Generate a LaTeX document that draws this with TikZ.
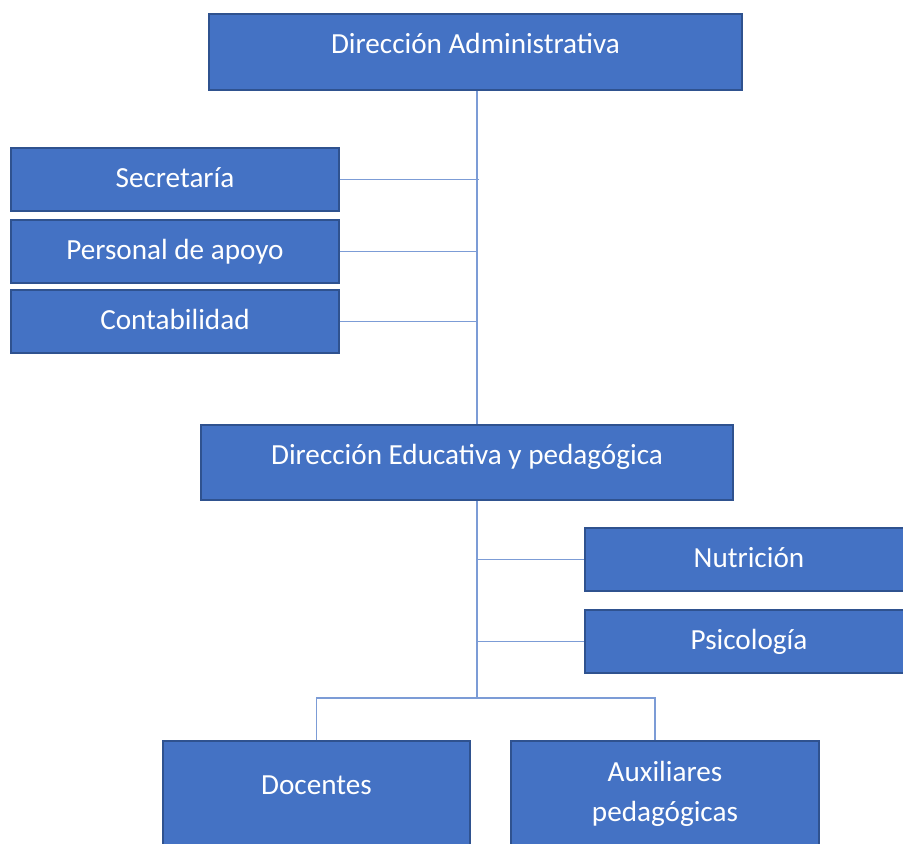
\documentclass[tikz,border=0pt]{standalone}
\usepackage{fontspec}
\setmainfont{Carlito}
\definecolor{boxfill}{RGB}{68,114,196}
\definecolor{boxline}{RGB}{47,82,143}
\definecolor{connline}{RGB}{124,156,214}
\begin{document}
\begin{tikzpicture}[
  font=\fontsize{16.6}{22.6}\selectfont,
  unit/.style={draw=boxline, line width=1.1pt, fill=boxfill, text=white,
               rectangle, anchor=north west, inner ysep=0pt, align=center},
  big/.style={unit, minimum width=10.66cm, text height=0.8cm, text depth=0.72cm},
  small/.style={unit, minimum width=6.56cm, text height=0.8cm, text depth=0.46cm},
  low/.style={unit, minimum height=2.12cm},
  conn/.style={draw=connline, line width=0.9pt}
]
  \clip (0, 0) rectangle (18.06, -16.88);

  \node[big] (dadm) at (4.16, -0.26) {Dirección Administrativa};
  \node[small] (sec) at (0.2, -2.94) {Secretaría};
  \node[small] (per) at (0.2, -4.38) {Personal de apoyo};
  \node[small] (con) at (0.2, -5.78) {Contabilidad};
  \node[big, minimum width=10.64cm, text depth=0.7cm] (dedu) at (4.0, -8.48)
    {Dirección Educativa y pedagógica};
  \node[small] (nut) at (11.68, -10.54) {Nutrición};
  \node[small] (psi) at (11.68, -12.18) {Psicología};
  \node[unit, minimum width=6.14cm, text height=1.08cm, text depth=1.04cm] (doc)
    at (3.24, -14.8) {Docentes};
  \node[low, minimum width=6.16cm] (aux) at (10.2, -14.8) {Auxiliares\\pedagógicas};

  \coordinate (trk) at (9.54, 0);
  \coordinate (bar) at (9.54, -13.96);

  %% main trunk, top to second level
  \draw[conn] (dadm.south -| trk) -- (dedu.north -| trk);

  %% staff boxes on the left
  \draw[conn] (sec.east) -- ([xshift=0.04cm]sec.east -| trk);
  \draw[conn] (per.east) -- (per.east -| trk);
  \draw[conn] (con.east) -- (con.east -| trk);

  %% lower trunk with the two support boxes
  \draw[conn] (dedu.south -| trk) -- (bar);
  \draw[conn] (nut.west) -- (nut.west -| trk);
  \draw[conn] (psi.west) -- (psi.west -| trk);

  %% split to the bottom row
  \draw[conn] (doc.north) -- (doc.north |- bar) -- ([xshift=-0.2cm]aux.north |- bar)
    -- ([xshift=-0.2cm]aux.north);
\end{tikzpicture}
\end{document}
